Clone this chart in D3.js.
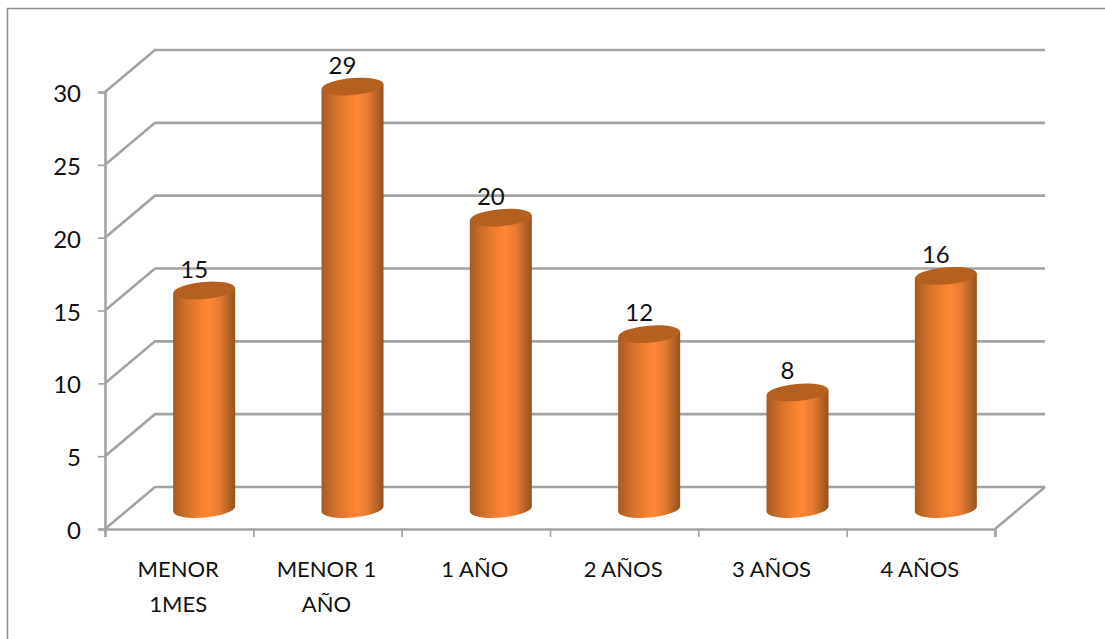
<!DOCTYPE html>
<html>
<head>
<meta charset="utf-8">
<script src="https://cdn.jsdelivr.net/npm/d3@7/dist/d3.min.js"></script>
<style>
html,body{margin:0;padding:0;background:#fff;}
svg{display:block;}
text{font-family:Lato,"Open Sans",sans-serif;fill:#111;}
</style>
</head>
<body>
<svg id="chart" width="1105" height="639"></svg>
<script>
const categories = [["MENOR","1MES"],["MENOR 1","AÑO"],["1 AÑO"],["2 AÑOS"],["3 AÑOS"],["4 AÑOS"]];
const values = [15, 29, 20, 12, 8, 16];
const yTicks = [0, 5, 10, 15, 20, 25, 30];

const svg = d3.select("#chart");
const gridColor = "#a3a3a3";

// Front plane of the 3D box and the shift to its back wall
const plot = {left:105, right:995, bottom:529, top:92};
const depth = {dx:50, dy:-42};
const barDepth = {dx:25, dy:-20};
const barWidth = 62;
const capRy = 8.5;
const tiltDeg = -5;

const x = d3.scaleBand().domain(d3.range(categories.length)).range([plot.left, plot.right]);
const y = d3.scaleLinear().domain([0, 30]).range([plot.bottom, plot.top]);

const defs = svg.append("defs");
const grad = defs.append("linearGradient").attr("id","barFill");
[[0,"#a8591f"],[0.2,"#cf6f2b"],[0.45,"#f5812f"],[0.58,"#ff8736"],[0.75,"#e67a30"],[0.92,"#ad5f26"],[1,"#95511f"]]
  .forEach(([o,c]) => grad.append("stop").attr("offset",o).attr("stop-color",c));

// Chart frame
svg.append("rect").attr("x",7.5).attr("y",8.5).attr("width",1200).attr("height",700)
  .attr("fill","#fff").attr("stroke","#8e8e8e").attr("stroke-width",1.5);

// Back wall gridlines with their side-wall diagonals
const grid = svg.append("g").attr("fill","none").attr("stroke",gridColor).attr("stroke-width",2.6);
grid.selectAll("path").data(yTicks).join("path")
  .attr("d", v => d3.line()([
    [plot.left, y(v)],
    [plot.left + depth.dx, y(v) + depth.dy],
    [plot.right + depth.dx, y(v) + depth.dy]
  ]));

// Floor edge on the right side
grid.append("line")
  .attr("x1",plot.right).attr("y1",plot.bottom)
  .attr("x2",plot.right + depth.dx).attr("y2",plot.bottom + depth.dy);

// Axes
const yAxis = d3.axisLeft(y).tickValues(yTicks).tickSize(7).tickPadding(17);
const xAxis = d3.axisBottom(d3.scaleLinear().domain([0,categories.length]).range([plot.left,plot.right]))
  .ticks(categories.length).tickSize(8).tickFormat("");

const gy = svg.append("g").attr("transform",`translate(${plot.left},0)`).call(yAxis);
const gx = svg.append("g").attr("transform",`translate(0,${plot.bottom})`).call(xAxis);
[gy,gx].forEach(g => {
  g.selectAll(".domain").attr("stroke",gridColor).attr("stroke-width",2.6);
  g.selectAll(".tick line").attr("stroke",gridColor).attr("stroke-width",1.6);
});
gy.selectAll("text").attr("font-size",24).attr("font-family",null).attr("dy","0.4em").style("fill","#111");

// Category labels, wrapped on two lines where needed
const labels = svg.append("g").selectAll("text").data(categories).join("text")
  .attr("text-anchor","middle").attr("font-size",22)
  .attr("transform",(d,i) => `translate(${x(i)+x.bandwidth()/2-1},577)`);
labels.selectAll("tspan").data(d => d).join("tspan")
  .attr("x",0).attr("dy",(d,i) => i ? 35 : 0).text(d => d);

// Cylindrical columns
const rad = tiltDeg * Math.PI/180;
const rx = barWidth/2;
const tip = rx * Math.sin(rad);
const bars = svg.append("g").selectAll("g").data(values).join("g")
  .attr("transform",(d,i) => `translate(${x(i)+x.bandwidth()/2+barDepth.dx},${barDepth.dy})`);

bars.append("path").attr("fill","url(#barFill)")
  .attr("d", d => {
    const yt = y(d), yb = y(0);
    return `M${-rx},${yt - tip}L${rx},${yt + tip}L${rx},${yb + tip}` +
      `A${rx},${capRy} ${tiltDeg} 0 1 ${-rx},${yb - tip}Z`;
  });
bars.append("ellipse").attr("fill","#b5601f")
  .attr("rx",rx).attr("ry",capRy)
  .attr("transform",d => `translate(0,${y(d)}) rotate(${tiltDeg})`);

// Value labels above each column
bars.append("text").attr("text-anchor","middle").attr("font-size",24)
  .attr("x",-10).attr("y",d => y(d) - 13).text(d => d);
</script>
</body>
</html>
